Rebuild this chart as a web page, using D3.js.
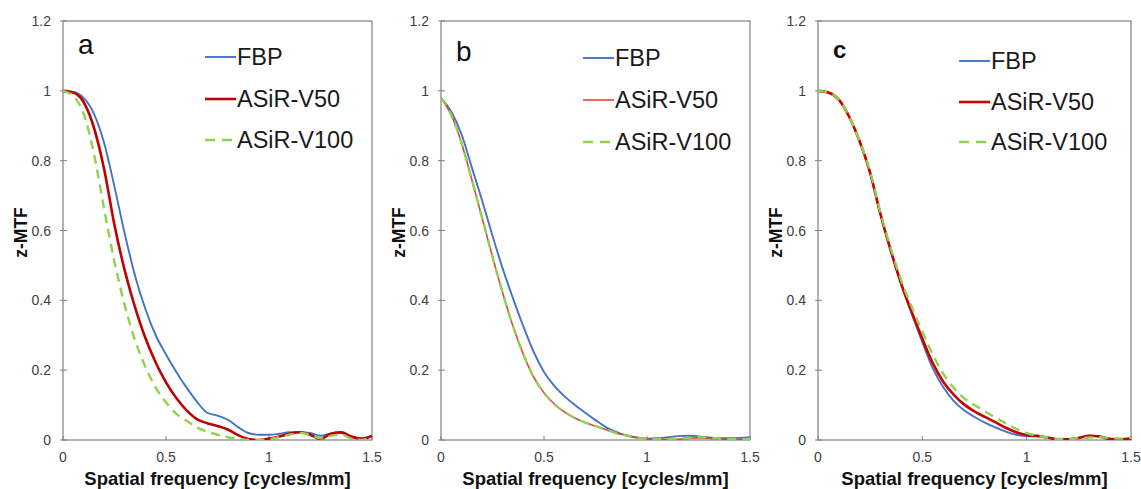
<!DOCTYPE html>
<html>
<head>
<meta charset="utf-8">
<script src="https://cdn.jsdelivr.net/npm/d3@7"></script>
<style>
    html, body { margin: 0; padding: 0; background: #fff; }
    svg { display: block; font-family: "Liberation Sans", Arial, sans-serif; }
    .tick-label { font-size: 14px; fill: #404040; }
    .axis-title { font-size: 18.5px; font-weight: bold; fill: #111; }
    .y-title { font-size: 17.5px; font-weight: bold; fill: #111; }
    .legend-text { font-size: 23.5px; fill: #1a1a1a; }
</style>
</head>
<body>
<svg id="chart" width="1141" height="489"></svg>
<script>
// spatial frequency samples [cycles/mm]
const freqs = [0, 0.05, 0.1, 0.15, 0.2, 0.25, 0.3, 0.35, 0.4, 0.45, 0.5, 0.55, 0.6, 0.65, 0.7, 0.75,
    0.8, 0.85, 0.9, 0.95, 1.0, 1.05, 1.1, 1.15, 1.2, 1.25, 1.3, 1.35, 1.4, 1.45, 1.5];

const xTicks = [0, 0.5, 1, 1.5];
const yTicks = [0, 0.2, 0.4, 0.6, 0.8, 1, 1.2];
const seriesNames = ['FBP', 'ASiR-V50', 'ASiR-V100'];
const panelLabels = ['a', 'b', 'c'];

// panel a
const aFBP = [1.0, 0.997, 0.98, 0.935, 0.85, 0.725, 0.59, 0.47, 0.375, 0.30, 0.245, 0.195, 0.15, 0.11, 0.078, 0.07,
    0.058, 0.037, 0.02, 0.015, 0.015, 0.018, 0.022, 0.022, 0.02, 0.012, 0.018, 0.02, 0.008, 0.006, 0.012];
const aV50 = [1.0, 0.995, 0.968, 0.895, 0.775, 0.615, 0.485, 0.38, 0.292, 0.222, 0.165, 0.12, 0.085, 0.06, 0.048, 0.04,
    0.03, 0.014, 0.003, 0.0, 0.004, 0.01, 0.018, 0.022, 0.015, 0.003, 0.018, 0.022, 0.01, 0.003, 0.012];
const aV100 = [1.0, 0.985, 0.935, 0.82, 0.66, 0.51, 0.385, 0.285, 0.21, 0.15, 0.108, 0.075, 0.055, 0.036, 0.024, 0.015,
    0.008, 0.003, 0.0, 0.0, 0.002, 0.008, 0.015, 0.02, 0.015, 0.005, 0.012, 0.015, 0.004, 0.0, 0.01];

// panel b
const bFBP = [0.98, 0.94, 0.875, 0.78, 0.685, 0.585, 0.49, 0.405, 0.325, 0.252, 0.195, 0.155, 0.125, 0.1, 0.078, 0.057,
    0.037, 0.023, 0.013, 0.007, 0.004, 0.005, 0.008, 0.011, 0.012, 0.01, 0.007, 0.005, 0.005, 0.006, 0.008];
const bV50 = [0.98, 0.93, 0.85, 0.745, 0.635, 0.525, 0.42, 0.325, 0.245, 0.18, 0.135, 0.103, 0.08, 0.063, 0.05, 0.04,
    0.03, 0.02, 0.013, 0.007, 0.003, 0.001, 0.001, 0.002, 0.004, 0.006, 0.005, 0.003, 0.002, 0.002, 0.004];
const bV100 = [0.98, 0.93, 0.85, 0.745, 0.635, 0.525, 0.42, 0.325, 0.245, 0.18, 0.135, 0.103, 0.08, 0.063, 0.05, 0.04,
    0.03, 0.02, 0.013, 0.007, 0.003, 0.002, 0.002, 0.004, 0.006, 0.008, 0.007, 0.004, 0.002, 0.002, 0.004];

// panel c
const cFBP = [1.0, 0.995, 0.975, 0.925, 0.855, 0.765, 0.645, 0.54, 0.445, 0.36, 0.28, 0.205, 0.152, 0.112, 0.085, 0.066,
    0.05, 0.036, 0.024, 0.015, 0.011, 0.01, 0.006, 0.002, 0.002, 0.006, 0.012, 0.01, 0.004, 0.003, 0.004];
const cV50 = [1.0, 0.995, 0.975, 0.925, 0.855, 0.765, 0.645, 0.54, 0.445, 0.365, 0.29, 0.22, 0.167, 0.13, 0.102, 0.082,
    0.066, 0.051, 0.035, 0.022, 0.014, 0.012, 0.007, 0.002, 0.002, 0.006, 0.012, 0.01, 0.003, 0.002, 0.004];
const cV100 = [1.0, 0.995, 0.975, 0.925, 0.855, 0.768, 0.65, 0.547, 0.455, 0.38, 0.31, 0.245, 0.19, 0.15, 0.12, 0.1,
    0.082, 0.064, 0.048, 0.032, 0.02, 0.012, 0.007, 0.003, 0.003, 0.005, 0.007, 0.008, 0.006, 0.004, 0.006];

const panels = [
    { left: 63, right: 372, label: panelLabels[0], labelPos: [78, 54], labelSize: 28, labelWeight: 'normal',
      legendX: 205, legendY: [57, 99, 140], red: '#C00000', redWidth: 2.6, series: [aFBP, aV50, aV100] },
    { left: 441, right: 750, label: panelLabels[1], labelPos: [456, 61], labelSize: 28, labelWeight: 'normal',
      legendX: 583, legendY: [58, 100, 142], red: '#E0443C', redWidth: 1.6, series: [bFBP, bV50, bV100] },
    { left: 818, right: 1131, label: panelLabels[2], labelPos: [833, 58], labelSize: 24, labelWeight: 'bold',
      legendX: 959, legendY: [61, 102, 142], red: '#CC0000', redWidth: 2.6, series: [cFBP, cV50, cV100] }
];

const plotTop = 21;
const plotBottom = 440;
const svg = d3.select('#chart');

panels.forEach((p, i) => {
    const x = d3.scaleLinear().domain([0, 1.5]).range([p.left, p.right]);
    const y = d3.scaleLinear().domain([0, 1.2]).range([plotBottom, plotTop]);
    const g = svg.append('g');

    const styles = [
        { color: '#4472C4', width: 1.9, dash: null },
        { color: p.red, width: p.redWidth, dash: null },
        { color: '#92D050', width: 2.4, dash: '9,6' }
    ];

    g.append('clipPath').attr('id', 'clip' + i)
        .append('rect')
        .attr('x', p.left).attr('y', plotTop)
        .attr('width', p.right - p.left).attr('height', plotBottom - plotTop);

    // frame
    g.append('rect')
        .attr('x', p.left).attr('y', plotTop)
        .attr('width', p.right - p.left).attr('height', plotBottom - plotTop)
        .attr('fill', 'none')
        .attr('stroke', '#808080')
        .attr('stroke-width', 1.2);

    // y ticks + labels
    g.selectAll('.ytick').data(yTicks).enter().append('line')
        .attr('x1', p.left - 3).attr('x2', p.left + 4)
        .attr('y1', d => y(d)).attr('y2', d => y(d))
        .attr('stroke', '#808080');
    g.selectAll('.ylab').data(yTicks).enter().append('text')
        .attr('class', 'tick-label')
        .attr('x', p.left - 12)
        .attr('y', d => y(d) + 5)
        .attr('text-anchor', 'end')
        .text(d => d3.format('~g')(d));

    // x ticks + labels
    g.selectAll('.xtick').data(xTicks).enter().append('line')
        .attr('x1', d => x(d)).attr('x2', d => x(d))
        .attr('y1', plotBottom).attr('y2', plotBottom - 4)
        .attr('stroke', '#808080');
    g.selectAll('.xlab').data(xTicks).enter().append('text')
        .attr('class', 'tick-label')
        .attr('x', d => x(d))
        .attr('y', plotBottom + 22)
        .attr('text-anchor', 'middle')
        .text(d => d3.format('~g')(d));

    // axis titles
    g.append('text')
        .attr('class', 'axis-title')
        .attr('x', (p.left + p.right) / 2)
        .attr('y', 485)
        .attr('text-anchor', 'middle')
        .text('Spatial frequency [cycles/mm]');
    g.append('text')
        .attr('class', 'y-title')
        .attr('transform', `translate(${p.left - 36},${(plotTop + plotBottom) / 2 + 2}) rotate(-90)`)
        .attr('text-anchor', 'middle')
        .text('z-MTF');

    // curves
    const line = d3.line()
        .x((d, k) => x(freqs[k]))
        .y(d => y(d))
        .curve(d3.curveMonotoneX);

    const plot = g.append('g').attr('clip-path', `url(#clip${i})`);
    p.series.forEach((vals, k) => {
        plot.append('path')
            .datum(vals)
            .attr('d', line)
            .attr('fill', 'none')
            .attr('stroke', styles[k].color)
            .attr('stroke-width', styles[k].width)
            .attr('stroke-dasharray', styles[k].dash);
    });

    // panel letter
    g.append('text')
        .attr('x', p.labelPos[0]).attr('y', p.labelPos[1])
        .style('font-size', p.labelSize + 'px')
        .style('font-weight', p.labelWeight)
        .attr('fill', '#111')
        .text(p.label);

    // legend
    seriesNames.forEach((name, k) => {
        const ly = p.legendY[k];
        g.append('line')
            .attr('x1', p.legendX).attr('x2', p.legendX + 31)
            .attr('y1', ly).attr('y2', ly)
            .attr('stroke', styles[k].color)
            .attr('stroke-width', styles[k].width)
            .attr('stroke-dasharray', styles[k].dash ? '10,7' : null);
        g.append('text')
            .attr('class', 'legend-text')
            .attr('x', p.legendX + 32)
            .attr('y', ly + 8)
            .text(name);
    });
});
</script>
</body>
</html>
